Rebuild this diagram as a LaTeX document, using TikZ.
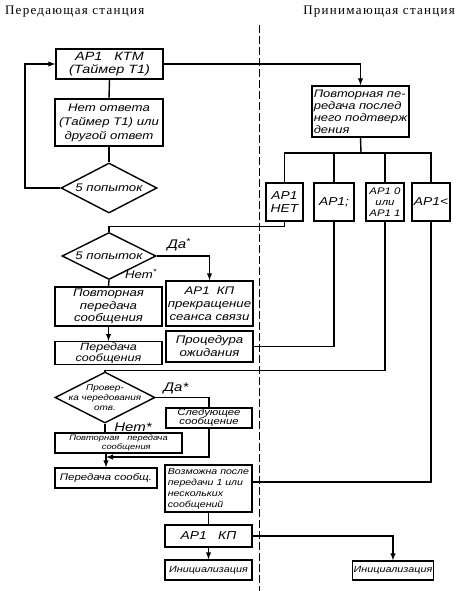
\documentclass[tikz,border=0pt]{standalone}
\usepackage{fontspec}
\setmainfont{Liberation Serif}
\newfontfamily\gost[FakeStretch=1.2]{Liberation Sans}
\usetikzlibrary{shapes.geometric}
\tikzset{
  box/.style={draw, line width=1.4pt, inner sep=1pt, align=center,
    font=\gost\itshape\fontsize{11}{13}\selectfont},
  rhomb/.style={diamond, draw, line width=1.4pt, inner sep=0pt},
  dtext/.style={align=center, inner sep=0pt, font=\gost\itshape\fontsize{11}{13}\selectfont},
  lbl/.style={font=\gost\itshape\fontsize{12.5}{13}\selectfont, inner sep=0pt},
  head/.style={font=\fontsize{13}{14}\selectfont\addfontfeature{LetterSpace=10}}
}
\begin{document}
\begin{tikzpicture}[x=1pt,y=-1pt,line width=1.4pt,>=latex]
\useasboundingbox (0,0) rectangle (463,591);
% headings and the border between the stations
\node[anchor=west, head] (hsend) at (1,12) {Передающая станция};
\node[anchor=east, head] (hrecv) at (459,12) {Принимающая станция};
\draw[line width=0.9pt, dash pattern=on 8pt off 3pt] (259,25) -- (259,591);
% sending station
\node[box, minimum width=107pt, minimum height=30pt, font=\gost\itshape\fontsize{12}{13}\selectfont] (ktm) at (109.5,64) {АР1\quad КТМ\\(Таймер Т1)};
\node[box, minimum width=108pt, minimum height=47pt, font=\gost\itshape\fontsize{11}{14}\selectfont] (noans) at (109,122.5) {Нет ответа\\(Таймер Т1) или\\другой ответ};
\node[rhomb, minimum width=96pt, minimum height=50pt, label={[dtext]center:5 попыток}] (try1) at (109,188) {};
\node[rhomb, minimum width=94pt, minimum height=47pt, label={[dtext]center:5 попыток}] (try2) at (109,256) {};
\node[box, minimum width=107pt, minimum height=39pt, font=\gost\itshape\fontsize{11}{12.5}\selectfont] (rep1) at (108.5,306.5) {Повторная\\передача\\сообщения};
\node[box, minimum width=107pt, minimum height=22pt, font=\gost\itshape\fontsize{10.5}{9.5}\selectfont] (send1) at (108.5,353) {Передача\\сообщения};
\node[box, minimum width=87pt, minimum height=45pt, font=\gost\itshape\fontsize{11}{13}\selectfont] (stop) at (209.5,303.5) {АР1\ \ КП\\прекращение\\сеанса связи};
\node[box, minimum width=87pt, minimum height=31pt] (wait) at (209.5,346.5) {Процедура\\ожидания};
\node[rhomb, minimum width=100pt, minimum height=51pt, label={[dtext, font=\gost\itshape\fontsize{8.3}{10}\selectfont]center:Провер-\\ка чередования\\отв.}] (alt) at (105,397.5) {};
\node[box, minimum width=86pt, minimum height=20pt, font=\gost\itshape\fontsize{9.4}{9}\selectfont] (next) at (209,418) {Следующее\\сообщение};
\node[box, minimum width=127pt, minimum height=20pt, font=\gost\itshape\fontsize{7.8}{8.5}\selectfont] (rep2) at (118.5,443) {Повторная\quad передача\\\qquad сообщения};
\node[box, minimum width=102pt, minimum height=20pt, font=\gost\itshape\fontsize{9.5}{11}\selectfont] (send2) at (106,478) {Передача сообщ.};
\node[box, minimum width=87pt, minimum height=47pt, align=left, font=\gost\itshape\fontsize{8.8}{11}\selectfont] (after) at (208.5,488.5) {Возможна после\\передачи 1 или\\нескольких\\сообщений};
\node[box, minimum width=87pt, minimum height=22pt, font=\gost\itshape\fontsize{11.5}{12}\selectfont] (end) at (208.5,536) {АР1\quad КП};
\node[box, minimum width=87pt, minimum height=20pt, font=\gost\itshape\fontsize{9}{10}\selectfont] (init1) at (208.5,570) {Инициализация};
% receiving station
\node[box, minimum width=97pt, minimum height=51pt, align=left, font=\gost\itshape\fontsize{10.8}{12}\selectfont] (last) at (360.5,111.5) {Повторная пе-\\редача послед\\него подтверж\\дения};
\node[box, minimum width=37pt, minimum height=38pt, font=\gost\itshape\fontsize{11.5}{13}\selectfont] (nak) at (284.5,202) {АР1\\НЕТ};
\node[box, minimum width=40pt, minimum height=38pt, font=\gost\itshape\fontsize{11.5}{13}\selectfont] (wack) at (334,202) {АР1;};
\node[box, minimum width=38pt, minimum height=38pt, font=\gost\itshape\fontsize{9.5}{11}\selectfont] (ack) at (385,202) {АР1 0\\или\\АР1 1};
\node[box, minimum width=38pt, minimum height=38pt, font=\gost\itshape\fontsize{11.5}{13}\selectfont] (rvi) at (431,202) {АР1<};
\node[box, minimum width=80pt, minimum height=19pt, font=\gost\itshape\fontsize{9}{10}\selectfont] (init2) at (393,570.5) {Инициализация};
% branch labels
\node[lbl] (yes1) at (179,245) {Да\textsuperscript{*}};
\node[lbl, font=\gost\itshape\fontsize{11}{12}\selectfont] (no1) at (141,274) {Нет\textsuperscript{*}};
\node[lbl] (yes2) at (176,388) {Да*};
\node[lbl] (no2) at (133,427) {Нет*};
% free ends
\coordinate (bar) at (361,153);
\coordinate (loop) at (25,188);
\coordinate (merge) at (106,457);
% connectors
\draw[->] (ktm.east) -| (last.north);
\draw (ktm.south) -- (noans.north);
\draw (noans.south) -- (try1.north);
\draw[->] (try1.west) -- (loop) |- (ktm.west);
\draw (last.south) -- (bar);
\draw (nak.north) |- (bar);
\draw (wack.north) |- (bar);
\draw (ack.north) |- (bar);
\draw (rvi.north) |- (bar);
\draw (nak.south) -- ++(0,5) -| (try2.north);
\draw[->] (try2.east) -| (stop.north);
\draw (try2.south) -- (rep1.north);
\draw[->] (rep1.south) -- (send1.north);
\draw (wait.east) -| (wack.south);
\draw (ack.south) -- ++(0,149) -| (alt.north);
\draw (alt.east) -| (next.north);
\draw (alt.south) -- (rep2.north -| alt.south);
\draw[->] (next.south) |- (merge);
\draw[->] (rep2.south -| merge) -- (send2.north);
\draw (rvi.south) |- ([yshift=6.5pt]after.east);
\draw (after.south) -- (end.north);
\draw[->] (end.south) -- (init1.north);
\draw[->] (end.east) -| (init2.north);
\end{tikzpicture}
\end{document}
